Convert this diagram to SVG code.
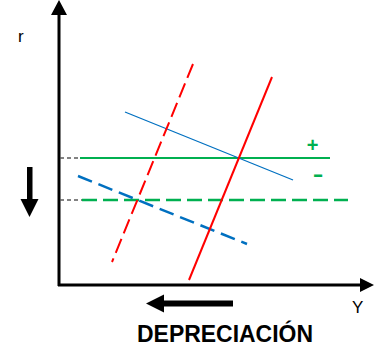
<svg xmlns="http://www.w3.org/2000/svg" width="376" height="351" viewBox="0 0 376 351">
<style>
.ax{stroke:#000;stroke-width:3;fill:none}
.lbl{font-family:"Liberation Sans",Arial,sans-serif;font-size:17px;fill:#000}
.grn{stroke:#00B050;stroke-width:2;fill:none}
.gd{stroke:#00B050;stroke-width:2.5;fill:none;stroke-dasharray:15 6}
.ref{stroke:#595959;stroke-width:1.5;fill:none;stroke-dasharray:4 3}
.red{stroke:#FF0000;stroke-width:2;fill:none}
.rd{stroke:#FF0000;stroke-width:2;fill:none;stroke-dasharray:15 6}
.blu{stroke:#0070C0;stroke-width:1.3;fill:none}
.bd{stroke:#0070C0;stroke-width:2.5;fill:none;stroke-dasharray:15 7}
.sign{font-family:"Liberation Sans",Arial,sans-serif;font-weight:bold;fill:#00B050}
</style>
<rect width="376" height="351" fill="#fff"/>
<g id="axes">
<line class="ax" x1="59" y1="12" x2="59" y2="286"/>
<polygon points="59,0 51,15 67,15" fill="#000"/>
<line class="ax" x1="58" y1="285" x2="362" y2="285"/>
<polygon points="374,285 360,278 360,292" fill="#000"/>
<text class="lbl" x="18" y="42">r</text>
<text class="lbl" x="352" y="313">Y</text>
</g>
<g id="connectors">
<line class="ref" x1="60" y1="158" x2="80" y2="158"/>
<line class="ref" x1="60" y1="200" x2="82" y2="200"/>
<line class="grn" x1="80" y1="158" x2="330" y2="158"/>
<line class="gd" x1="82" y1="200" x2="348" y2="200"/>
<line class="blu" x1="125" y1="112" x2="293" y2="180"/>
<line class="bd" x1="78" y1="176" x2="247" y2="244"/>
<line class="rd" x1="193" y1="64" x2="112" y2="262"/>
<line class="red" x1="272" y1="77" x2="189" y2="280"/>
</g>
<g id="signs">
<text class="sign" x="312.5" y="152" font-size="20" text-anchor="middle">+</text>
<text class="sign" x="0" y="0" font-size="20" text-anchor="middle" transform="translate(318,181) scale(1.6,1)">-</text>
</g>
<g id="arrow-down">
<rect x="27" y="167" width="5.5" height="33" fill="#000"/>
<polygon points="20.5,199 38.5,199 29.5,217" fill="#000"/>
</g>
<g id="arrow-left">
<rect x="162" y="300.5" width="71" height="6" fill="#000"/>
<polygon points="146,303.5 164,294.5 164,312.5" fill="#000"/>
</g>
<g id="title">
<text x="137" y="342" font-family="'Liberation Sans',Arial,sans-serif" font-weight="bold" font-size="23" textLength="176" lengthAdjust="spacingAndGlyphs" fill="#000">DEPRECIACIÓN</text>
</g>
</svg>
